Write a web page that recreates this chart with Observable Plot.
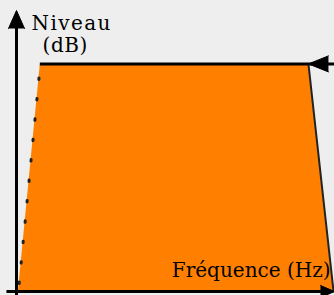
<!DOCTYPE html>
<html>
<head>
<meta charset="utf-8">
<script src="https://cdn.jsdelivr.net/npm/d3@7"></script>
<script src="https://cdn.jsdelivr.net/npm/@observablehq/plot@0.6"></script>
<style>
  html, body { margin: 0; padding: 0; background: #eeeeee; }
  #chart svg { display: block; }
</style>
</head>
<body>
<div id="chart"></div>
<script>
// Band-pass level profile (relative units)
const levels = [0, 81];          // level (dB, relative), bottom and plateau
const freqLow = [0.6, 7.5];      // rising edge frequency at each level
const freqHigh = [99.7, 91.8];   // falling edge frequency at each level
const yLabelLines = ["Niveau", "(dB)"];
const xLabel = "Fréquence (Hz)";

const shape = levels.map((y, i) => ({y, x1: freqLow[i], x2: freqHigh[i]}));
const leftEdge = levels.map((y, i) => ({x: freqLow[i], y}));
const rightEdge = levels.map((y, i) => ({x: freqHigh[i], y}));
const plateau = levels[levels.length - 1];
const topStart = freqLow[freqLow.length - 1];
const topEnd = freqHigh[freqHigh.length - 1];

const font = "'DejaVu Serif', serif";

const chart = Plot.plot({
  width: 334,
  height: 295,
  marginLeft: 16,
  marginRight: 0,
  marginTop: 10,
  marginBottom: 4,
  style: {background: "#eeeeee", overflow: "visible"},
  x: {domain: [0, 100], axis: null},
  y: {domain: [0, 100], axis: null},
  marks: [
    Plot.areaX(shape, {y: "y", x1: "x1", x2: "x2", fill: "#ff8000"}),
    Plot.line(leftEdge, {x: "x", y: "y", stroke: "#222", strokeWidth: 3, strokeDasharray: "1.5 19", strokeDashoffset: -8}),
    Plot.line(rightEdge, {x: "x", y: "y", stroke: "#222", strokeWidth: 2}),
    // plateau line with arrow at the right
    Plot.ruleY([plateau], {x1: topStart, x2: 100, stroke: "black", strokeWidth: 3}),
    Plot.vector([{x: topEnd, y: plateau}], {x: "x", y: "y", rotate: -90, length: 20, r: 8, shape: "spike", anchor: "end", fill: "black", stroke: "black", strokeWidth: 1}),
    // axes
    Plot.ruleX([0], {y1: -1.5, y2: 95, stroke: "black", strokeWidth: 3}),
    Plot.vector([{x: 0, y: 100}], {x: "x", y: "y", rotate: 0, length: 18, r: 8, shape: "spike", anchor: "end", fill: "black", stroke: "black", strokeWidth: 1}),
    Plot.ruleY([0], {x1: -3, x2: 97, stroke: "black", strokeWidth: 3}),
    Plot.vector([{x: 100, y: 0}], {x: "x", y: "y", rotate: 90, length: 14, r: 6, shape: "spike", anchor: "end", fill: "black", stroke: "black", strokeWidth: 1}),
    // labels
    Plot.text([yLabelLines[0]], {frameAnchor: "top-left", dx: 15, dy: 5, text: d => d, textAnchor: "start", lineAnchor: "top", fontFamily: font, fontSize: 20, fill: "black"}),
    Plot.text([yLabelLines[1]], {frameAnchor: "top-left", dx: 26, dy: 27, text: d => d, textAnchor: "start", lineAnchor: "top", fontFamily: font, fontSize: 20, fill: "black"}),
    Plot.text([xLabel], {frameAnchor: "bottom-right", dx: -4, dy: -15, text: d => d, textAnchor: "end", lineAnchor: "bottom", fontFamily: font, fontSize: 20, fill: "black"})
  ]
});
// slightly wider letter spacing of the level label, as in the reference
d3.select(chart).selectAll("text").each(function () {
  const t = this.textContent;
  if (t === yLabelLines[0]) this.style.letterSpacing = "1.4px";
  else if (t === yLabelLines[1]) this.style.letterSpacing = "0.6px";
});
document.getElementById("chart").appendChild(chart);
</script>
</body>
</html>
